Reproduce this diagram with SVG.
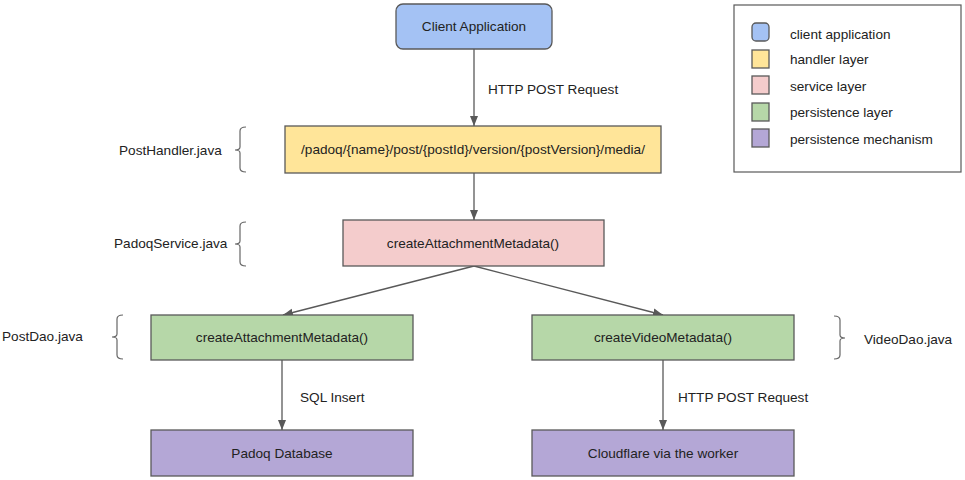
<svg xmlns="http://www.w3.org/2000/svg" width="965" height="480" viewBox="0 0 965 480">
<style>
text{font-family:"Liberation Sans",Arial,sans-serif;font-size:13.6px;fill:#222}
.c{text-anchor:middle}
.box{stroke:#595959;stroke-width:1.3}
.edge{stroke:#595959;stroke-width:1.3;fill:none}
.br{stroke:#666;stroke-width:1.2;fill:none}
</style>
<defs>
<marker id="ah" viewBox="0 0 10 10" refX="10" refY="5" markerWidth="10" markerHeight="10" markerUnits="userSpaceOnUse" orient="auto">
<path d="M0,1 L10,5 L0,9 z" fill="#595959"/>
</marker>
</defs>
<rect width="965" height="480" fill="#fff"/>
<g id="connectors">
<line class="edge" x1="474" y1="49" x2="474" y2="126" marker-end="url(#ah)"/>
<line class="edge" x1="474" y1="173" x2="474" y2="220" marker-end="url(#ah)"/>
<line class="edge" x1="474" y1="266" x2="283" y2="315" marker-end="url(#ah)"/>
<line class="edge" x1="474" y1="266" x2="663" y2="315" marker-end="url(#ah)"/>
<line class="edge" x1="282" y1="360" x2="282" y2="430" marker-end="url(#ah)"/>
<line class="edge" x1="663" y1="360" x2="663" y2="430" marker-end="url(#ah)"/>
<text x="488" y="94">HTTP POST Request</text>
<text x="300" y="402">SQL Insert</text>
<text x="678" y="402">HTTP POST Request</text>
</g>
<g id="client">
<rect class="box" x="396" y="4" width="156" height="45" rx="7" fill="#a4c2f4"/>
<text class="c" x="474" y="31">Client Application</text>
</g>
<g id="handler">
<rect class="box" x="285" y="126" width="376" height="47" fill="#ffe599"/>
<text class="c" x="473" y="154">/padoq/{name}/post/{postId}/version/{postVersion}/media/</text>
</g>
<g id="service">
<rect class="box" x="343" y="220" width="261" height="46" fill="#f4cccc"/>
<text class="c" x="473" y="248">createAttachmentMetadata()</text>
</g>
<g id="postdao">
<rect class="box" x="151" y="315" width="262" height="45" fill="#b6d7a8"/>
<text class="c" x="282" y="342">createAttachmentMetadata()</text>
</g>
<g id="videodao">
<rect class="box" x="532" y="315" width="262" height="45" fill="#b6d7a8"/>
<text class="c" x="663" y="342">createVideoMetadata()</text>
</g>
<g id="database">
<rect class="box" x="151" y="430" width="262" height="46" fill="#b4a7d6"/>
<text class="c" x="282" y="458">Padoq Database</text>
</g>
<g id="cloudflare">
<rect class="box" x="532" y="430" width="262" height="46" fill="#b4a7d6"/>
<text class="c" x="663" y="458">Cloudflare via the worker</text>
</g>
<g id="label-posthandler">
<path class="br" d="M246,127 Q240,127 240,131 L240,147 Q240,150 235,150 Q240,150 240,153 L240,168 Q240,172 246,172"/>
<text x="119" y="155">PostHandler.java</text>
</g>
<g id="label-padoqservice">
<path class="br" d="M246,222 Q240,222 240,226 L240,241 Q240,244 235,244 Q240,244 240,247 L240,262 Q240,266 246,266"/>
<text x="114" y="248">PadoqService.java</text>
</g>
<g id="label-postdao">
<path class="br" d="M123,315 Q117,315 117,319 L117,334 Q117,337 112,337 Q117,337 117,340 L117,355 Q117,359 123,359"/>
<text x="2" y="341">PostDao.java</text>
</g>
<g id="label-videodao">
<path class="br" d="M834,316 Q840,316 840,320 L840,335 Q840,338 845,338 Q840,338 840,341 L840,355 Q840,359 834,359"/>
<text x="864" y="344">VideoDao.java</text>
</g>
<g id="legend">
<rect x="734" y="5" width="227" height="167" fill="#fff" stroke="#595959" stroke-width="1.2"/>
<rect class="box" x="752" y="23" width="17" height="18" rx="4" fill="#a4c2f4"/>
<rect class="box" x="752" y="50" width="17" height="18" fill="#ffe599"/>
<rect class="box" x="752" y="76" width="17" height="18" fill="#f4cccc"/>
<rect class="box" x="752" y="103" width="17" height="18" fill="#b6d7a8"/>
<rect class="box" x="752" y="129" width="17" height="18" fill="#b4a7d6"/>
<text x="790" y="39">client application</text>
<text x="790" y="64">handler layer</text>
<text x="790" y="91">service layer</text>
<text x="790" y="117">persistence layer</text>
<text x="790" y="144">persistence mechanism</text>
</g>
</svg>
